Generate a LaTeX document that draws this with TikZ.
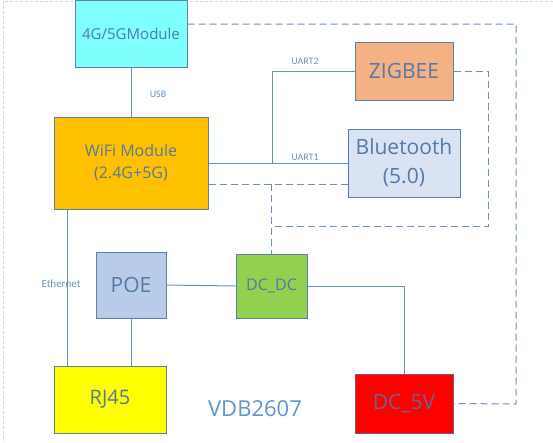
\documentclass[tikz,border=0pt]{standalone}
\usepackage{fontspec}
\setmainfont{Open Sans}
\newfontfamily\labfont{Carlito}
\usetikzlibrary{calc}
\definecolor{txt}{RGB}{84,122,165}
\definecolor{edge}{RGB}{95,128,165}
\definecolor{wire}{RGB}{106,146,184}
\definecolor{title}{RGB}{91,150,208}
\definecolor{fgfour}{RGB}{128,255,255}
\definecolor{fwifi}{RGB}{255,192,0}
\definecolor{fzig}{RGB}{244,177,131}
\definecolor{fbt}{RGB}{218,227,243}
\definecolor{fpoe}{RGB}{184,203,232}
\definecolor{fdcdc}{RGB}{146,208,80}
\definecolor{frj}{RGB}{255,255,0}
\definecolor{fdc}{RGB}{255,0,0}
\definecolor{redge}{RGB}{130,90,120}
\definecolor{pageb}{RGB}{215,215,215}
\begin{document}
\begin{tikzpicture}[x=1pt,y=-1pt,
  box/.style={draw=edge,line width=1pt,inner sep=0pt,text=txt,align=center},
  wirel/.style={draw=wire,line width=1pt},
  dashl/.style={draw=wire,line width=1pt,dash pattern=on 7pt off 4pt},
  lab/.style={text=wire,font=\labfont\fontsize{10}{12}\selectfont,inner sep=0pt}]
\useasboundingbox (0,0) rectangle (553,442);
% page border
\draw[pageb,line width=0.8pt,dash pattern=on 3pt off 2pt] (553,1) -- (3,1) -- (3,442);
% boxes
\node[box,fill=fgfour,minimum width=112pt,minimum height=67pt,font=\fontsize{15}{18}\selectfont] (g4) at (131,33.5) {4G/5GModule};
\node[box,fill=fwifi,minimum width=154pt,minimum height=92pt,font=\fontsize{16}{22}\selectfont] (wifi) at (131,163) {WiFi Module\\(2.4G+5G)};
\node[box,fill=fzig,minimum width=98pt,minimum height=58pt,font=\fontsize{21}{25}\selectfont] (zig) at (404,71) {ZIGBEE};
\node[box,fill=fbt,minimum width=112pt,minimum height=68pt,font=\fontsize{21}{29}\selectfont] (bt) at (404,163) {Bluetooth\\(5.0)};
\node[box,fill=fpoe,minimum width=70pt,minimum height=66pt,font=\fontsize{21}{25}\selectfont] (poe) at (131,285) {POE};
\node[box,fill=fdcdc,minimum width=71pt,minimum height=64pt,font=\fontsize{16}{20}\selectfont] (dcdc) at (271.5,286) {DC\_DC};
\node[box,fill=frj,minimum width=112pt,minimum height=67pt,font=\fontsize{20}{24}\selectfont] (rj) at (110,399.5) {RJ45};
\node[box,draw=redge,fill=fdc,minimum width=98pt,minimum height=59pt,font=\fontsize{21}{25}\selectfont,text={rgb,255:red,105;green,100;blue,150}] (dc5) at (404,403.5) {DC\_5V};
\node[text=title,font=\fontsize{22}{26}\selectfont,inner sep=0pt] (ttl) at (255,409) {VDB2607};
% solid connectors
\draw[wirel] (g4.south) -- (wifi.north);
\node[lab] (usb) at (158,94) {USB};
\draw[wirel] (wifi.east) -- (bt.west);
\coordinate (j1) at (272,163);
\draw[wirel] (j1) |- (zig.west);
\node[lab] (u2) at (305,61) {UART2};
\node[lab] (u1) at (305,157) {UART1};
\coordinate (eth) at ([xshift=14pt]wifi.south west);
\draw[wirel] (eth) -- (eth |- rj.north);
\node[lab,font=\labfont\fontsize{11}{13}\selectfont] (ethl) at (61,284) {Ethernet};
\draw[wirel] (poe.south) -- (poe.south |- rj.north);
\draw[wirel] (poe.east) -- (dcdc.west);
\draw[wirel] (dcdc.east) -| (dc5.north);
% dashed connectors
\coordinate (w2) at ([yshift=-21pt]wifi.east);
\coordinate (b2) at ([yshift=-21pt]bt.west);
\draw[dashl] (w2) -- (b2);
\coordinate (j2) at (dcdc.north |- w2);
\draw[dashl] (j2) -- (dcdc.north);
\coordinate (zc) at (488,71);
\draw[dashl] (zig.east) -- (zc) -- (488,226) -- (dcdc.north |- 0,226);
\coordinate (g4r) at ([yshift=9.5pt]g4.east);
\draw[dashl] (g4r) -- (516,24) -- (516,404) -- (dc5.east);
\end{tikzpicture}
\end{document}
